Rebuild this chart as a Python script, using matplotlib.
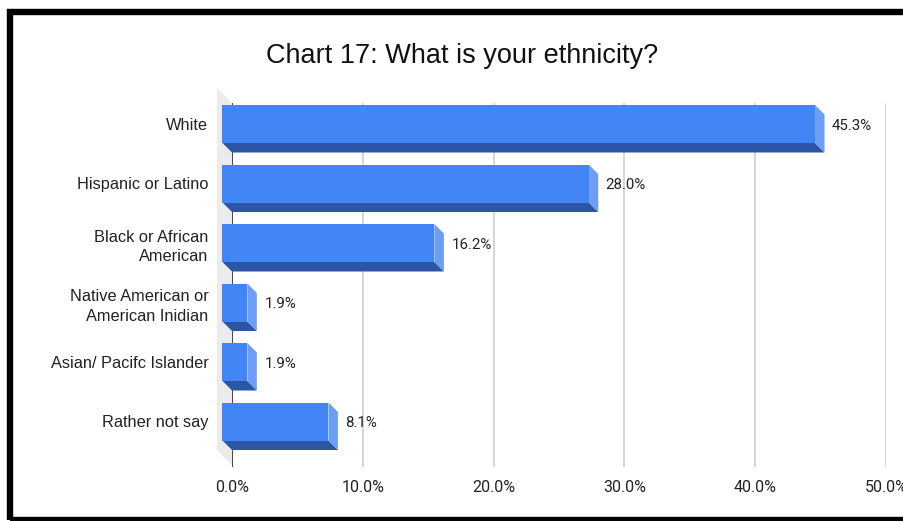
import numpy as np
import matplotlib
matplotlib.use("Agg")
import matplotlib.pyplot as plt
from matplotlib.patches import Polygon, Rectangle

# data
categories = ["White", "Hispanic or Latino", "Black or African\nAmerican",
              "Native American or\nAmerican Inidian", "Asian/ Pacifc Islander",
              "Rather not say"]
values = [45.3, 28.0, 16.2, 1.9, 1.9, 8.1]
xticks = [0, 10, 20, 30, 40, 50]
title = "Chart 17: What is your ethnicity?"

W, H = 904, 521
fig = plt.figure(figsize=(W / 100, H / 100), dpi=100)
fig.patch.set_facecolor("white")

# back plane of the plot area in pixel terms
left_px, right_px, top_px, bot_px = 232, 886, 103, 467
ax = fig.add_axes([left_px / W, 1 - bot_px / H,
                   (right_px - left_px) / W, (bot_px - top_px) / H])

px_per_x = (right_px - left_px) / 50.0
px_per_cat = 59.5
first_center_px = 133.5
ylim_top = -(first_center_px - top_px) / px_per_cat
ylim_bot = (bot_px - first_center_px) / px_per_cat
ax.set_xlim(0, 50)
ax.set_ylim(ylim_bot, ylim_top)

# 3d depth of bars and wall
dx = 9.5 / px_per_x
dy = 9.5 / px_per_cat
h = 38 / px_per_cat
wdx = 15 / px_per_x
wdy = 15 / px_per_cat

front_col = "#4285f4"
bottom_col = "#2c56a3"
side_col = "#6c9ef5"

# side wall
wall = Polygon([(0, ylim_top), (-wdx, ylim_top - wdy), (-wdx, ylim_bot - wdy - 0.03),
                (0, ylim_bot - 0.03)], closed=True, facecolor="#ebebeb",
               edgecolor="none", clip_on=False, zorder=0)
ax.add_patch(wall)

# gridlines and zero axis
for t in xticks[1:]:
    ax.axvline(t, color="#cccccc", lw=1.1, zorder=1)
ax.axvline(0, color="#444444", lw=1.4, zorder=1)

for i, v in enumerate(values):
    top = i - h / 2
    bot = i + h / 2
    bottom_face = Polygon([(-dx, bot - dy), (v - dx, bot - dy), (v, bot), (0, bot)],
                          closed=True, facecolor=bottom_col, edgecolor="none",
                          clip_on=False, zorder=3)
    side_face = Polygon([(v - dx, top - dy), (v, top), (v, bot), (v - dx, bot - dy)],
                        closed=True, facecolor=side_col, edgecolor="none",
                        clip_on=False, zorder=3)
    front_face = Rectangle((-dx, top - dy), v, h, facecolor=front_col,
                           edgecolor="none", clip_on=False, zorder=4)
    ax.add_patch(bottom_face)
    ax.add_patch(side_face)
    ax.add_patch(front_face)
    ax.annotate(f"{v:.1f}%", xy=(v, i - dy + 0.03), xytext=(5.4, 0),
                textcoords="offset points", ha="left", va="center",
                fontsize=10.8, family="Roboto", color="#222222", zorder=5)

ax.set_xticks(xticks)
ax.set_xticklabels([f"{t:.1f}%" for t in xticks], family="Roboto",
                   fontsize=11.5, color="#222222")
ax.set_yticks(np.arange(len(categories)) - dy)
ax.set_yticklabels(categories, family="Liberation Sans", fontsize=11.8,
                   color="#222222", linespacing=1.4)
ax.tick_params(axis="x", length=0, pad=9)
ax.tick_params(axis="y", length=0, pad=17)
for s in ax.spines.values():
    s.set_visible(False)
ax.set_facecolor("none")

fig.text(462 / W, 1 - 56 / H, title, ha="center", va="center",
         family="Liberation Sans", fontsize=19.5, color="#111111")

# black frame around the screenshot
frame = Rectangle((10 / W, 1 - 520 / H), 1.0, (520 - 11.5) / H,
                  transform=fig.transFigure, fill=False, edgecolor="black",
                  lw=4.6, clip_on=False)
fig.patches.append(frame)

fig.savefig("out.png", dpi=100)
